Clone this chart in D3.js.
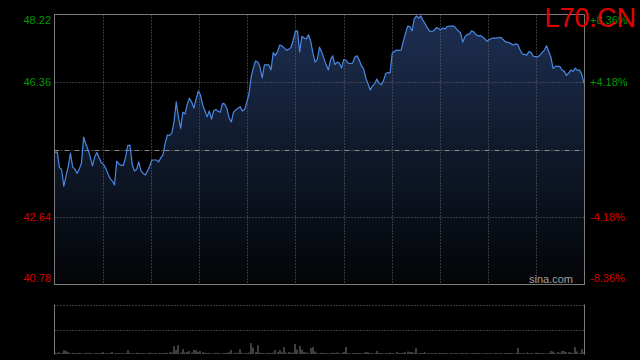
<!DOCTYPE html>
<html>
<head>
<meta charset="utf-8">
<script src="https://cdn.jsdelivr.net/npm/d3@7/dist/d3.min.js"></script>
<style>
  html, body { margin: 0; padding: 0; background: #000; }
  svg { display: block; font-family: "Liberation Sans", Arial, sans-serif; }
</style>
</head>
<body>
<svg id="chart" width="640" height="360"></svg>
<script>
// intraday prices, one per minute (241 points)
const prices = [
  44.43, 44.43, 44.00, 43.95, 43.49, 43.77, 44.03, 44.40, 44.02, 43.96,
  43.84, 43.96, 44.12, 44.84, 44.65, 44.49, 44.29, 44.05, 44.29, 44.42,
  44.27, 44.14, 44.09, 43.98, 43.83, 43.70, 43.63, 43.52, 44.18, 44.10,
  44.06, 44.06, 44.28, 44.61, 44.62, 44.10, 43.91, 43.95, 44.16, 43.91,
  43.84, 43.80, 43.91, 44.05, 44.21, 44.21, 44.21, 44.16, 44.27, 44.35,
  44.68, 44.90, 44.89, 44.95, 45.26, 45.81, 45.40, 45.08, 45.53, 45.48,
  45.75, 45.91, 45.81, 45.64, 45.89, 46.11, 46.00, 45.73, 45.57, 45.40,
  45.56, 45.34, 45.57, 45.60, 45.55, 45.53, 45.77, 45.75, 45.62, 45.37,
  45.26, 45.53, 45.59, 45.64, 45.68, 45.56, 45.60, 45.80, 46.03, 46.50,
  46.75, 46.94, 46.91, 46.78, 46.47, 46.83, 46.83, 46.83, 46.69, 47.17,
  47.09, 47.21, 47.38, 47.35, 47.30, 47.24, 47.26, 47.31, 47.49, 47.75,
  47.77, 47.19, 47.62, 47.57, 47.55, 47.66, 47.49, 47.16, 46.91, 46.99,
  47.32, 47.19, 47.01, 46.84, 46.69, 46.97, 47.08, 46.84, 46.91, 46.88,
  46.75, 46.98, 46.96, 46.88, 46.87, 46.88, 47.04, 47.08, 46.97, 46.81,
  46.73, 46.47, 46.31, 46.14, 46.25, 46.31, 46.44, 46.33, 46.28, 46.39,
  46.59, 46.62, 46.61, 47.15, 47.20, 47.24, 47.23, 47.24, 47.47, 47.70,
  47.90, 47.89, 47.77, 48.10, 48.18, 48.12, 48.18, 48.05, 47.96, 47.85,
  47.76, 47.75, 47.78, 47.86, 47.83, 47.80, 47.85, 47.82, 47.89, 47.90,
  47.90, 47.90, 47.83, 47.77, 47.71, 47.46, 47.61, 47.67, 47.68, 47.77,
  47.74, 47.66, 47.63, 47.64, 47.60, 47.55, 47.48, 47.53, 47.56, 47.57,
  47.57, 47.58, 47.59, 47.55, 47.49, 47.45, 47.45, 47.41, 47.38, 47.41,
  47.39, 47.24, 47.13, 47.12, 47.10, 47.20, 47.17, 47.07, 47.06, 47.05,
  47.10, 47.17, 47.24, 47.36, 47.20, 47.04, 46.73, 46.79, 46.79, 46.79,
  46.69, 46.66, 46.54, 46.60, 46.69, 46.65, 46.74, 46.68, 46.69, 46.57,
  46.33
];

// volume per minute (lots)
const volumes = [
  30, 20, 40, 25, 80, 60, 40, 20, 25, 15, 20, 25, 20, 15, 20, 25, 20, 15, 20, 20,
  15, 20, 40, 20, 15, 20, 40, 20, 15, 20, 15, 20, 20, 80, 20, 15, 20, 25, 20, 15,
  20, 15, 20, 25, 20, 15, 20, 20, 15, 20, 20, 25, 40, 30, 160, 80, 180, 30, 100, 30,
  40, 60, 30, 80, 80, 40, 60, 40, 25, 20, 20, 15, 20, 25, 20, 15, 20, 20, 25, 30,
  80, 20, 25, 20, 100, 25, 20, 20, 30, 220, 130, 40, 180, 25, 20, 20, 25, 20, 20, 25,
  80, 40, 80, 30, 140, 30, 40, 25, 30, 200, 90, 160, 90, 40, 30, 25, 120, 140, 50, 25,
  20, 25, 20, 20, 15, 20, 25, 20, 30, 25, 20, 40, 140, 20, 15, 20, 20, 25, 20, 20,
  25, 40, 35, 20, 20, 15, 60, 20, 20, 15, 20, 20, 25, 20, 15, 40, 20, 20, 25, 40,
  50, 40, 40, 25, 120, 20, 20, 20, 35, 20, 15, 20, 15, 20, 20, 15, 20, 15, 20, 15,
  20, 15, 20, 15, 20, 20, 15, 20, 15, 20, 15, 20, 20, 15, 20, 15, 20, 15, 20, 15,
  20, 15, 20, 15, 20, 20, 15, 20, 15, 20, 120, 20, 15, 20, 30, 15, 20, 15, 30, 20,
  20, 15, 20, 15, 20, 60, 50, 20, 40, 20, 60, 60, 40, 40, 30, 20, 140, 50, 20, 100, 40
];

const prevClose = 44.50;
const priceTicks = [48.22, 46.36, 44.50, 42.64, 40.78];
const pctTicks = ['+8.36%', '+4.18%', '0.00%', '-4.18%', '-8.36%'];
const symbol = 'L70.CN';
const volumeMax = 1000;

const svg = d3.select('#chart');
const plotL = 54.5, plotR = 584.5, plotT = 14.5, plotB = 284.5;
const volT = 304.5, volB = 354.5;
const up = '#009a00', down = '#d40000', gridColor = '#6a6a6a';

svg.append('rect').attr('width', 640).attr('height', 360).attr('fill', '#000');

const x = d3.scaleLinear().domain([0, prices.length - 1]).range([plotL + 0.5, plotR - 0.5]);
const y = d3.scaleLinear().domain([priceTicks[4], priceTicks[0]]).range([plotB, plotT]);
const yVol = d3.scaleLinear().domain([0, volumeMax]).range([volB - 0.5, volT]);
const col = d3.scaleLinear().domain([0, 11]).range([plotL, plotR]);

// area gradient
const defs = svg.append('defs');
const grad = defs.append('linearGradient')
  .attr('id', 'fade').attr('gradientUnits', 'userSpaceOnUse')
  .attr('x1', 0).attr('x2', 0).attr('y1', plotT).attr('y2', plotB);
grad.append('stop').attr('offset', 0).attr('stop-color', '#1d2f52');
grad.append('stop').attr('offset', 1).attr('stop-color', '#030406');

const area = d3.area()
  .x((d, i) => x(i))
  .y0(plotB)
  .y1(d => y(d));
svg.append('path').datum(prices).attr('d', area).attr('fill', 'url(#fade)');

// grid: columns
const cols = d3.range(1, 11);
svg.append('g').selectAll('line').data(cols).join('line')
  .attr('x1', d => Math.round(col(d)) + 0.5).attr('x2', d => Math.round(col(d)) + 0.5)
  .attr('y1', plotT).attr('y2', plotB)
  .attr('stroke', gridColor).attr('stroke-dasharray', '1,2');

// grid: price rows
svg.append('g').selectAll('line').data(priceTicks.slice(1, 4)).join('line')
  .attr('x1', plotL).attr('x2', plotR)
  .attr('y1', d => Math.round(y(d)) + 0.5).attr('y2', d => Math.round(y(d)) + 0.5)
  .attr('stroke', d => d === prevClose ? '#8a8a8a' : gridColor)
  .attr('stroke-dasharray', d => d === prevClose ? '5,2,1,2' : '1,2');

// price line
const line = d3.line().x((d, i) => x(i)).y(d => y(d));
svg.append('path').datum(prices).attr('d', line)
  .attr('fill', 'none').attr('stroke', '#4a88e4').attr('stroke-width', 1.2)
  .attr('stroke-linejoin', 'round');

// frame
svg.append('rect').attr('x', plotL).attr('y', plotT)
  .attr('width', plotR - plotL).attr('height', plotB - plotT)
  .attr('fill', 'none').attr('stroke', '#7a7a7a');

// watermark
svg.append('text').attr('x', 573).attr('y', 283)
  .attr('text-anchor', 'end').attr('font-size', 11).attr('fill', '#a0a0a0')
  .text('sina.com');

// price labels (left) and percent labels (right)
const labelY = d => Math.min(Math.max(y(d), plotT + 6), plotB - 6);
const tickColor = d => d > prevClose ? up : down;
const labelRows = priceTicks.map((p, i) => ({ p, pct: pctTicks[i] })).filter(r => r.p !== prevClose);

svg.append('g').selectAll('text').data(labelRows).join('text')
  .attr('x', 51).attr('y', d => labelY(d.p)).attr('dy', '0.35em')
  .attr('text-anchor', 'end').attr('font-size', 11)
  .attr('fill', d => tickColor(d.p))
  .text(d => d.p.toFixed(2));

svg.append('g').selectAll('text').data(labelRows).join('text')
  .attr('x', 590).attr('y', d => labelY(d.p)).attr('dy', '0.35em')
  .attr('font-size', 11)
  .attr('fill', d => tickColor(d.p))
  .text(d => d.pct);

// volume panel
svg.append('g').selectAll('line').data([volT, (volT + volB) / 2]).join('line')
  .attr('x1', plotL).attr('x2', plotR)
  .attr('y1', d => Math.round(d) + 0.5).attr('y2', d => Math.round(d) + 0.5)
  .attr('stroke', '#777').attr('stroke-dasharray', '1,2');

svg.append('g').selectAll('rect').data(volumes).join('rect')
  .attr('x', (d, i) => Math.round(x(i)) - 0.5)
  .attr('width', 1)
  .attr('y', d => yVol(d))
  .attr('height', d => volB - 0.5 - yVol(d))
  .attr('fill', '#7c7c7c');

svg.append('line').attr('x1', plotL).attr('x2', plotL).attr('y1', volT).attr('y2', volB)
  .attr('stroke', '#7a7a7a');
svg.append('line').attr('x1', plotR).attr('x2', plotR).attr('y1', volT).attr('y2', volB)
  .attr('stroke', '#7a7a7a');

// symbol title, drawn over the top-right label as in the source
svg.append('text').attr('x', 636).attr('y', 27)
  .attr('text-anchor', 'end').attr('font-size', 27).attr('fill', '#e00000')
  .text(symbol);
</script>
</body>
</html>
